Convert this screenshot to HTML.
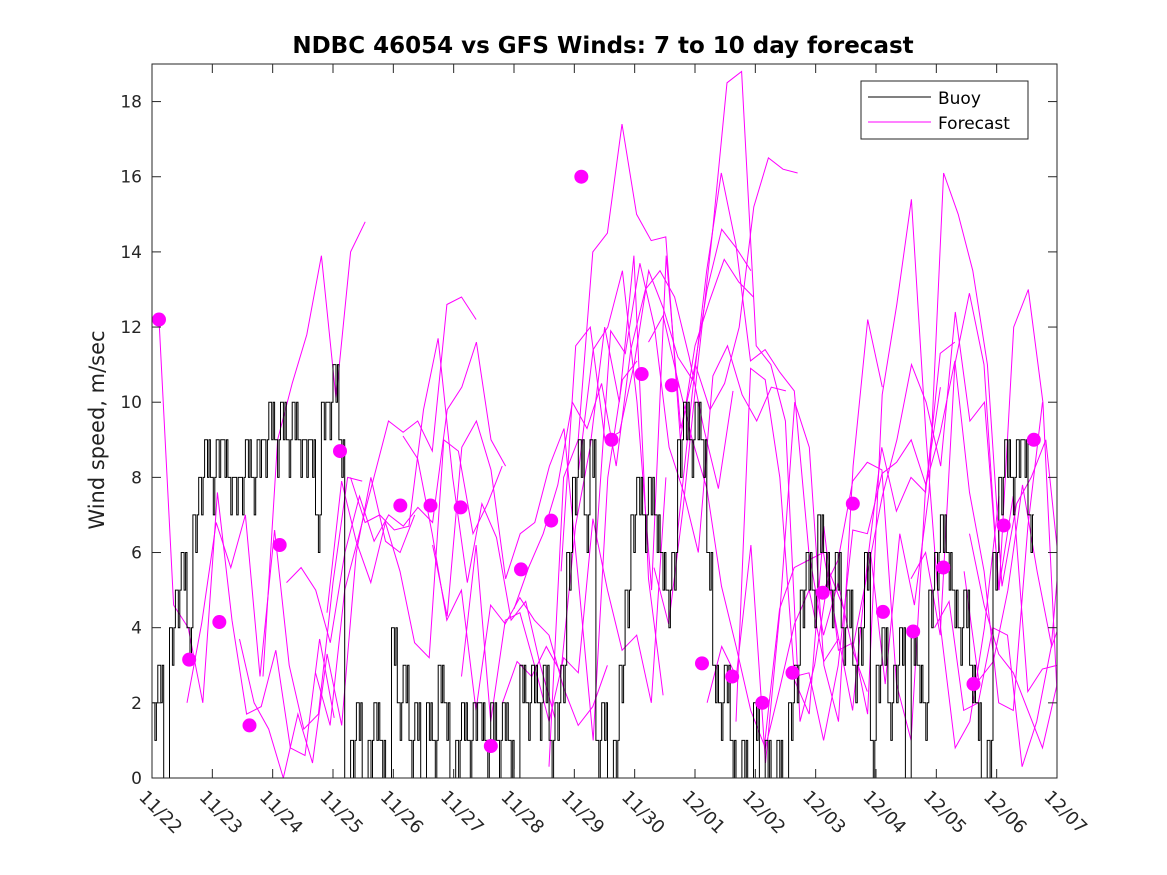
<!DOCTYPE html>
<html><head><meta charset="utf-8"><style>
body{margin:0;background:#fff}
svg{display:block;font-family:"DejaVu Sans","Liberation Sans",sans-serif}
</style></head><body>
<svg id="chart" width="1167" height="875">
<rect width="1167" height="875" fill="#fff"/>
<text x="603" y="53" text-anchor="middle" font-size="23" font-weight="bold" fill="#000">NDBC 46054 vs GFS Winds: 7 to 10 day forecast</text>
<text transform="translate(104,430) rotate(-90)" text-anchor="middle" font-size="21" fill="#222">Wind speed, m/sec</text>
<g id="plot"></g>
</svg>
<script>
const xLabels=["11/22","11/23","11/24","11/25","11/26","11/27","11/28","11/29","11/30","12/01","12/02","12/03","12/04","12/05","12/06","12/07"];
const yTicks=[0,2,4,6,8,10,12,14,16,18];
const buoyStep=0.0968;
const buoy=[2,3,0,4,5,6,4,7,8,9, 8,9,9,8,8,8,9,8,9,9, 10,9,10,9,10,9,9,9,7,10, 10,11,9,0,1,2,0,1,2,1, 0,4,2,3,1,2,0,2,1,3, 2,0,1,2,1,2,2,1,2,1, 2,1,0,3,2,3,2,3,1,2, 3,6,8,9,7,9,1,2,0,1, 3,5,7,8,7,8,7,6,5,6, 9,10,9,10,9,6,3,2,3,1, 0,1,0,2,0,1,0,1,0,2, 3,5,6,5,7,6,5,6,4,5, 3,4,6,1,3,4,2,3,4,0, 4,3,2,5,6,7,6,5,4,5, 3,2,0,1,6,8,9,8,9,9,7];
const fcStep=0.242;
const fcStarts=[0.116,0.58,1.45,1.84,2.23,2.71,2.90,3.29,4.16,4.65,5.13,5.81,6.00,6.58,6.78,7.07,7.36,8.23,8.32,8.71,9.20,9.68,10.16,10.65,11.13,11.62,11.91,12.58,12.97,13.46,13.55];
const fcValues=[
[12.2,4.6,4.0,2.0,7.6,4.2,1.7,1.9,3.4,0.8,0.6,3.7,1.6],
[2.0,4.1,6.8,5.6,7.0,2.7,6.6,3.0,1.3,1.7,5.2,8.0,7.9],
[3.7,2.0,1.3,0.0,1.7,0.4,3.3,1.4,6.0,8.0,6.3,6.0,7.0],
[2.7,9.0,10.5,11.8,13.9,10.1,14.0,14.8],
[5.2,5.6,5.0,3.6,6.0,7.5,6.3,7.0,6.7,7.2,6.8,9.8,10.4,11.6,9.0,8.3],
[2.8,1.4,5.0,6.5,8.0,9.5,9.2,9.5,8.7,12.6,12.8,12.2],
[4.4,7.9,6.3,5.2,6.8,5.5,3.6,3.2,9.0,8.7,6.5,7.3,8.3],
[8.0,6.8,7.0,6.6,6.7,9.8,11.7,8.0,5.2,7.3,6.4,4.2,4.7,3.0,1.6],
[9.1,8.5,6.5,4.2,5.0,1.8,4.6,4.1,4.8,4.2,3.8,2.4,1.4,1.9,3.0],
[6.2,4.3,8.8,9.5,8.2,5.3,6.5,6.8,8.3,9.3,5.2,1.0,8.0,10.6,11.1],
[2.7,6.2,1.5,4.2,4.4,3.0,1.5,3.2,2.8,6.9,5.0,3.4,3.8,2.0,8.0],
[2.0,3.1,2.7,3.5,2.8,6.7,8.8,12.0,10.0,13.9,5.3,2.2],
[4.5,5.6,6.5,7.8,10.0,9.3,10.5,8.3,11.4,13.0,13.5,12.8,11.2,9.3,7.7,10.3],
[0.3,8.0,9.0,14.0,14.5,17.4,15.0,14.3,14.4,9.0,11.5,12.7,13.8,13.2,12.8],
[5.5,11.5,12.0,9.0,9.2,11.0,13.5,12.5,11.2,10.6,13.0,14.6,14.1,13.5],
[8.2,11.4,12.0,13.5,10.0,5.0,13.9,9.3,11.0,9.8,10.5,12.0,15.2,16.5,16.2,16.1],
[6.2,11.9,11.3,13.7,12.0,8.8,7.6,6.0,10.7,11.5,10.2,9.5,10.4,10.3],
[11.6,12.3,10.6,9.0,7.7,5.1,3.5,1.8,0.8,2.4,4.1,5.0,3.1,3.7],
[5.6,4.1,7.2,11.0,14.5,18.5,18.8,11.5,11.0,9.5,1.5,3.0,5.5,4.5],
[6.5,10.2,13.5,16.1,14.2,11.1,11.4,10.8,10.3,6.0,3.8,5.2,3.4,2.3],
[2.0,3.5,2.7,6.2,0.4,4.5,10.0,8.8,3.0,1.5,8.3,12.2,10.4],
[1.5,10.9,10.6,8.0,2.7,2.8,1.0,3.0,6.6,6.5,8.1,8.4,9.0,7.8,10.4],
[1.0,4.5,5.6,5.8,6.0,3.8,1.8,5.7,8.8,7.1,8.0,7.6,11.3,11.6],
[2.6,1.7,6.7,3.4,3.6,1.7,10.2,12.6,15.4,9.1,4.0,0.8,1.5,4.0,7.5],
[5.0,5.8,7.9,8.4,8.2,2.5,1.0,7.8,9.2,11.1,7.6,5.5,2.0,1.8,6.7,10.0],
[3.5,5.5,7.5,9.0,11.0,10.0,8.3,12.4,9.5,10.0,5.0,12.0,13.0,10.0,2.0,1.4],
[6.0,2.5,6.5,4.6,7.6,16.1,15.0,13.5,11.0,5.1,7.3,8.0,9.0,5.3,6.7,3.7],
[5.3,6.0,3.8,11.0,12.9,11.0,5.0,7.5,2.3,2.9,3.0,2.2,2.7],
[4.0,4.7,1.8,2.0,4.0,3.8,0.3,1.5,3.5,8.0,5.8,8.9,9.4,12.2,13.0],
[5.5,2.6,3.1,5.0,7.8,5.5,3.5,4.6,4.0,2.6,1.1,2.8,6.5,10.7,13.6],
[6.5,4.6,3.3,2.8,1.8,0.8,2.5,7.0,9.8,10.5]];
const dotStart=0.116, dotStep=0.5;
const dotValues=[12.2,3.15,4.15,1.4,6.2,null,8.7,null,7.25,7.25,7.2,0.85,5.55,6.85,16.0,9.0,10.75,10.45,3.05,2.7,2.0,2.8,4.93,7.3,4.42,3.9,5.6,2.5,6.72,9.0];

const NS='http://www.w3.org/2000/svg';
const L=152,R=1057,T=64,B=778,DAYS=15,YMAX=19;
const xs=d=>L+(R-L)*d/DAYS;
const ys=v=>B-(B-T)*v/YMAX;
const g=document.getElementById('plot');
function mk(tag,at,parent){const e=document.createElementNS(NS,tag);for(const k in at)e.setAttribute(k,at[k]);(parent||g).appendChild(e);return e;}
const defs=mk('defs',{});
const cp=mk('clipPath',{id:'clip'},defs);mk('rect',{x:L,y:T,width:R-L,height:B-T},cp);

const fg=mk('g',{'clip-path':'url(#clip)'});
fcValues.forEach((vals,i)=>{
  const pts=vals.map((v,j)=>xs(fcStarts[i]+j*fcStep).toFixed(1)+','+ys(v).toFixed(1)).join(' ');
  const p=mk('polyline',{points:pts,fill:'none',stroke:'#ff00ff','stroke-width':1},fg);
  
  
});
let bp=[];
buoy.forEach((v,i)=>{const x0=xs(i*buoyStep),x1=xs((i+1)*buoyStep);const xm=(x0+x1)/2;
  bp.push(x0.toFixed(1)+','+ys(v).toFixed(1));bp.push(xm.toFixed(1)+','+ys(v).toFixed(1));
  const alt=Math.max(0,v-1);bp.push(xm.toFixed(1)+','+ys(alt).toFixed(1));bp.push((xm+1.5).toFixed(1)+','+ys(alt).toFixed(1));bp.push((xm+1.5).toFixed(1)+','+ys(v).toFixed(1));bp.push(x1.toFixed(1)+','+ys(v).toFixed(1));});
const bl=mk('polyline',{points:bp.join(' '),fill:'none',stroke:'#000','stroke-width':1},fg);


dotValues.forEach((v,i)=>{if(v===null)return;
  const c=mk('circle',{cx:xs(dotStart+i*dotStep),cy:ys(v),r:7,fill:'#ff00ff'});
  
  
});
const box=mk('rect',{x:L,y:T,width:R-L,height:B-T,fill:'none',stroke:'#262626','stroke-width':1});


yTicks.forEach(t=>{const y=ys(t);
  mk('line',{x1:L,x2:L+9,y1:y,y2:y,stroke:'#262626'});mk('line',{x1:R,x2:R-9,y1:y,y2:y,stroke:'#262626'});
  const tx=mk('text',{x:L-10,y:y+6,'text-anchor':'end','font-size':17,fill:'#262626'});tx.textContent=t;
  
  
});
xLabels.forEach((lab,i)=>{const x=xs(i);
  mk('line',{x1:x,x2:x,y1:B,y2:B-9,stroke:'#262626'});mk('line',{x1:x,x2:x,y1:T,y2:T+9,stroke:'#262626'});
  const tx=mk('text',{x:0,y:0,transform:`translate(${x-14},${B+20}) rotate(45)`,'font-size':18,fill:'#262626'});tx.textContent=lab;
  
  
});
const lg=mk('g',{});


mk('rect',{x:861,y:81,width:167,height:58,fill:'#fff',stroke:'#262626'},lg);
mk('line',{x1:868,x2:931,y1:97,y2:97,stroke:'#000'},lg);
mk('line',{x1:868,x2:931,y1:122,y2:122,stroke:'#ff00ff'},lg);
const t1=mk('text',{x:938,y:104,'font-size':17,fill:'#000'},lg);t1.textContent='Buoy';


const t2=mk('text',{x:938,y:129,'font-size':17,fill:'#000'},lg);t2.textContent='Forecast';


</script>
</body></html>
